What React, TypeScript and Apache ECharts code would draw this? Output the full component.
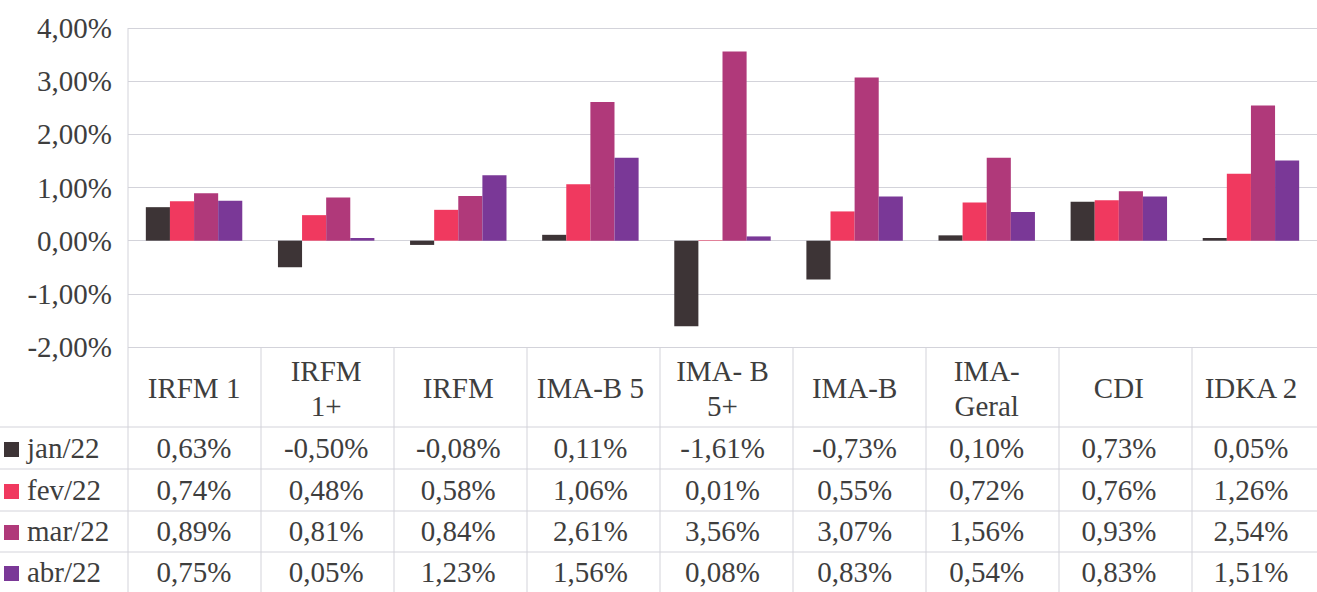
import React, { useEffect, useRef } from "react";
import * as echarts from "echarts";

const categories = ["IRFM 1", "IRFM\n1+", "IRFM", "IMA-B 5", "IMA- B\n5+", "IMA-B", "IMA-\nGeral", "CDI", "IDKA 2"];
const seriesNames = ["jan/22", "fev/22", "mar/22", "abr/22"];
const jan22 = [0.63, -0.5, -0.08, 0.11, -1.61, -0.73, 0.1, 0.73, 0.05];
const fev22 = [0.74, 0.48, 0.58, 1.06, 0.01, 0.55, 0.72, 0.76, 1.26];
const mar22 = [0.89, 0.81, 0.84, 2.61, 3.56, 3.07, 1.56, 0.93, 2.54];
const abr22 = [0.75, 0.05, 1.23, 1.56, 0.08, 0.83, 0.54, 0.83, 1.51];
const seriesValues = [jan22, fev22, mar22, abr22];
const colors = ["#3d3436", "#f0395f", "#b0397a", "#7a3897"];
const yTicks = [-2, -1, 0, 1, 2, 3, 4];

const fmt = (v: number) => v.toFixed(2).replace(".", ",") + "%";

const FONT = "Liberation Serif";
const TEXT = "#3e3e3e";
const LINE = "#d3d3da";

const W = 1317;
const H = 592;
const GRID_LEFT = 128;
const GRID_TOP = 28;
const GRID_BOTTOM_Y = 347;
const COL_W = 133;
const ROW_LINES = [427, 469, 511, 552];
const ROW_CENTERS = [448, 490, 531, 572];
const HEADER_CENTER = 388;
const FS = 29;

export default function App() {
  const ref = useRef<HTMLDivElement>(null);
  useEffect(() => {
    document.body.style.margin = "0";
    if (!ref.current) return;
    const chart = echarts.init(ref.current, undefined, { renderer: "svg" });
    const n = categories.length;

    const rowAxes = seriesValues.map((vals, r) => ({
      type: "category",
      data: categories,
      position: "bottom",
      gridIndex: 0,
      axisLine: { show: false, onZero: false },
      axisTick: { show: false },
      splitLine: { show: false },
      axisLabel: {
        interval: 0,
        margin: ROW_CENTERS[r] - GRID_BOTTOM_Y,
        verticalAlign: "middle",
        color: TEXT,
        fontFamily: FONT,
        fontSize: FS,
        formatter: (_v: string, i: number) => fmt(vals[i]),
      },
    }));

    const graphics: any[] = [];
    ROW_LINES.forEach((y) => {
      graphics.push({
        type: "line",
        shape: { x1: 0, y1: y, x2: W, y2: y },
        style: { stroke: LINE, lineWidth: 1 },
        silent: true,
      });
    });
    for (let i = 0; i <= n; i++) {
      const x = GRID_LEFT + i * COL_W;
      graphics.push({
        type: "line",
        shape: { x1: x, y1: i === 0 ? GRID_TOP : GRID_BOTTOM_Y, x2: x, y2: H },
        style: { stroke: LINE, lineWidth: 1 },
        silent: true,
      });
    }
    seriesNames.forEach((name, r) => {
      graphics.push({
        type: "rect",
        shape: { x: 4, y: ROW_CENTERS[r] - 6, width: 15, height: 15 },
        style: { fill: colors[r] },
        silent: true,
      });
      graphics.push({
        type: "text",
        x: 27,
        y: ROW_CENTERS[r],
        style: {
          text: name,
          fill: TEXT,
          fontFamily: FONT,
          fontSize: FS,
          verticalAlign: "middle",
          align: "left",
        },
        silent: true,
      });
    });

    chart.setOption({
      animation: false,
      backgroundColor: "#ffffff",
      grid: {
        left: GRID_LEFT,
        top: GRID_TOP,
        width: COL_W * n,
        height: GRID_BOTTOM_Y - GRID_TOP,
        containLabel: false,
      },
      xAxis: [
        {
          type: "category",
          data: categories,
          position: "bottom",
          axisLine: { show: false, onZero: false },
          axisTick: { show: false },
          splitLine: { show: false },
          axisLabel: {
            interval: 0,
            margin: HEADER_CENTER - GRID_BOTTOM_Y,
            verticalAlign: "middle",
            color: TEXT,
            fontFamily: FONT,
            fontSize: FS,
            lineHeight: 35,
          },
        },
        ...rowAxes,
      ],
      yAxis: {
        type: "value",
        min: yTicks[0],
        max: yTicks[yTicks.length - 1],
        interval: 1,
        axisLine: { show: false },
        axisTick: { show: false },
        splitLine: { show: true, lineStyle: { color: LINE, width: 1 } },
        axisLabel: {
          margin: 16,
          color: TEXT,
          fontFamily: FONT,
          fontSize: FS,
          formatter: (v: number) => fmt(v),
        },
      },
      series: seriesValues.map((vals, r) => ({
        name: seriesNames[r],
        type: "bar",
        xAxisIndex: 0,
        data: vals,
        barGap: "0%",
        barCategoryGap: "27%",
        itemStyle: { color: colors[r] },
      })),
      graphic: graphics,
    });
    return () => chart.dispose();
  }, []);
  return <div ref={ref} style={{ width: W, height: H }} />;
}
